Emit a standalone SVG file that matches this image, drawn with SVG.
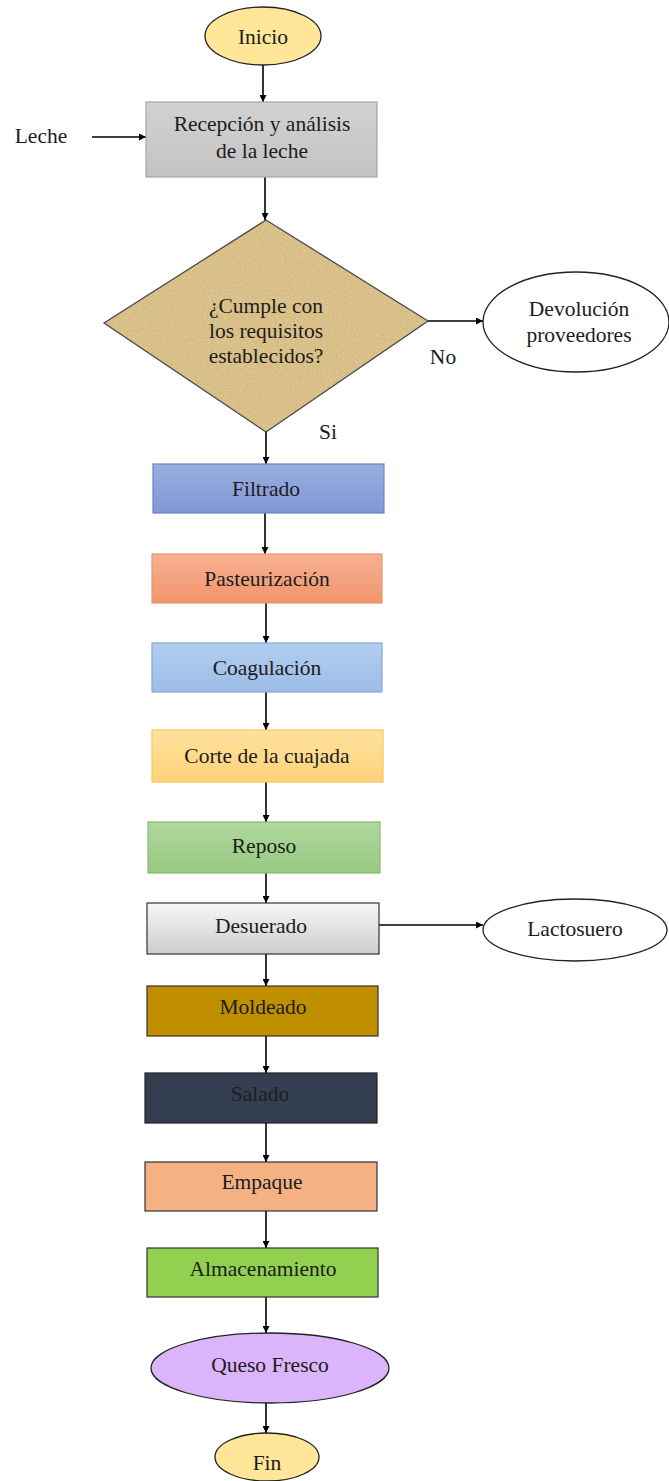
<svg xmlns="http://www.w3.org/2000/svg" width="669" height="1481" viewBox="0 0 669 1481">
  <style>
    text { font-family: "Liberation Serif", "Times New Roman", serif; font-size: 21.5px; fill: #1c1c1c; text-anchor: middle; dominant-baseline: central; }
    .conn { stroke: #000; stroke-width: 1.6; fill: none; marker-end: url(#arrow); }
    .box { stroke-width: 1.2; }
  </style>
  <defs>
    <marker id="arrow" viewBox="0 0 10 10" refX="10" refY="5" markerWidth="7" markerHeight="7" orient="auto" markerUnits="userSpaceOnUse">
      <path d="M0,0 L10,5 L0,10 z" fill="#000"/>
    </marker>
    <linearGradient id="gGray" x1="0" y1="0" x2="0" y2="1">
      <stop offset="0" stop-color="#d2d2d2"/>
      <stop offset="1" stop-color="#c3c3c3"/>
    </linearGradient>
    <linearGradient id="gBlue" x1="0" y1="0" x2="0" y2="1">
      <stop offset="0" stop-color="#9aaee0"/>
      <stop offset="1" stop-color="#8197d4"/>
    </linearGradient>
    <linearGradient id="gSalmon" x1="0" y1="0" x2="0" y2="1">
      <stop offset="0" stop-color="#f7b192"/>
      <stop offset="1" stop-color="#f1946c"/>
    </linearGradient>
    <linearGradient id="gLightBlue" x1="0" y1="0" x2="0" y2="1">
      <stop offset="0" stop-color="#b2cdef"/>
      <stop offset="1" stop-color="#9dbde6"/>
    </linearGradient>
    <linearGradient id="gYellow" x1="0" y1="0" x2="0" y2="1">
      <stop offset="0" stop-color="#ffe29e"/>
      <stop offset="1" stop-color="#ffd27a"/>
    </linearGradient>
    <linearGradient id="gGreen" x1="0" y1="0" x2="0" y2="1">
      <stop offset="0" stop-color="#b0d89d"/>
      <stop offset="1" stop-color="#96c982"/>
    </linearGradient>
    <linearGradient id="gSilver" x1="0" y1="0" x2="0" y2="1">
      <stop offset="0" stop-color="#f7f7f7"/>
      <stop offset="1" stop-color="#cdcdcd"/>
    </linearGradient>
    <!-- parchment grain for the decision diamond -->
    <filter id="parchment" x="0" y="0" width="100%" height="100%">
      <feTurbulence type="fractalNoise" baseFrequency="0.6" numOctaves="3" seed="4" result="noise"/>
      <feColorMatrix in="noise" type="matrix" values="0 0 0 0 0.93  0 0 0 0 0.84  0 0 0 0 0.62  0 0 0 1.2 -0.45" result="tint"/>
      <feComposite in="tint" in2="SourceGraphic" operator="in"/>
    </filter>
  </defs>

  <!-- connectors -->
  <g id="connectors">
    <line class="conn" x1="263" y1="65" x2="263" y2="102"/>
    <line class="conn" x1="92" y1="137" x2="146" y2="137"/>
    <line class="conn" x1="265" y1="177" x2="265" y2="220"/>
    <line class="conn" x1="428" y1="321" x2="483" y2="321"/>
    <line class="conn" x1="266" y1="432" x2="266" y2="464"/>
    <line class="conn" x1="265" y1="513" x2="265" y2="554"/>
    <line class="conn" x1="266" y1="603" x2="266" y2="643"/>
    <line class="conn" x1="266" y1="692" x2="266" y2="730"/>
    <line class="conn" x1="266" y1="782" x2="266" y2="822"/>
    <line class="conn" x1="266" y1="873" x2="266" y2="903"/>
    <line class="conn" x1="379" y1="925" x2="483" y2="925"/>
    <line class="conn" x1="266" y1="954" x2="266" y2="986"/>
    <line class="conn" x1="266" y1="1036" x2="266" y2="1073"/>
    <line class="conn" x1="266" y1="1123" x2="266" y2="1162"/>
    <line class="conn" x1="266" y1="1211" x2="266" y2="1248"/>
    <line class="conn" x1="266" y1="1297" x2="266" y2="1333"/>
    <line class="conn" x1="266" y1="1403" x2="266" y2="1433"/>
  </g>

  <g id="inicio">
    <ellipse cx="263" cy="36" rx="58" ry="29" fill="#ffe699" stroke="#222" stroke-width="1.3"/>
    <text x="263" y="37">Inicio</text>
  </g>

  <g id="leche">
    <text x="41" y="136">Leche</text>
  </g>

  <g id="recepcion">
    <rect class="box" x="146" y="102" width="231" height="75" fill="url(#gGray)" stroke="#a6a6a6"/>
    <text x="262" y="124">Recepción y análisis</text>
    <text x="262" y="151">de la leche</text>
  </g>

  <g id="decision">
    <polygon points="266,220 428,321 266,432 104,323" fill="#d6bb82"/>
    <polygon points="266,220 428,321 266,432 104,323" fill="#d6bb82" filter="url(#parchment)" opacity="0.6"/>
    <polygon points="266,220 428,321 266,432 104,323" fill="none" stroke="#4a4a4a" stroke-width="1.3"/>
    <text x="266" y="306">¿Cumple con</text>
    <text x="266" y="331">los requisitos</text>
    <text x="266" y="356">establecidos?</text>
  </g>

  <g id="label-no">
    <text x="443" y="357">No</text>
  </g>
  <g id="label-si">
    <text x="328" y="432">Si</text>
  </g>

  <g id="devolucion">
    <ellipse cx="576" cy="322" rx="93" ry="50" fill="#fff" stroke="#222" stroke-width="1.3"/>
    <text x="579" y="309">Devolución</text>
    <text x="579" y="335">proveedores</text>
  </g>

  <g id="filtrado">
    <rect class="box" x="153" y="464" width="231" height="49" fill="url(#gBlue)" stroke="#6d84c2"/>
    <text x="266" y="489">Filtrado</text>
  </g>

  <g id="pasteurizacion">
    <rect class="box" x="152" y="554" width="230" height="49" fill="url(#gSalmon)" stroke="#e9946d"/>
    <text x="267" y="579">Pasteurización</text>
  </g>

  <g id="coagulacion">
    <rect class="box" x="152" y="643" width="230" height="49" fill="url(#gLightBlue)" stroke="#84a8d8"/>
    <text x="267" y="668">Coagulación</text>
  </g>

  <g id="corte">
    <rect class="box" x="152" y="730" width="231" height="52" fill="url(#gYellow)" stroke="#f7c65a"/>
    <text x="267" y="756">Corte de la cuajada</text>
  </g>

  <g id="reposo">
    <rect class="box" x="148" y="822" width="232" height="51" fill="url(#gGreen)" stroke="#86bd70"/>
    <text x="264" y="846">Reposo</text>
  </g>

  <g id="desuerado">
    <rect class="box" x="147" y="903" width="232" height="51" fill="url(#gSilver)" stroke="#333"/>
    <text x="261" y="926">Desuerado</text>
  </g>

  <g id="lactosuero">
    <ellipse cx="575" cy="930" rx="92" ry="31" fill="#fff" stroke="#222" stroke-width="1.3"/>
    <text x="575" y="929">Lactosuero</text>
  </g>

  <g id="moldeado">
    <rect class="box" x="147" y="986" width="231" height="50" fill="#bf8f00" stroke="#333"/>
    <text x="263" y="1007">Moldeado</text>
  </g>

  <g id="salado">
    <rect class="box" x="145" y="1073" width="232" height="50" fill="#333f50" stroke="#222"/>
    <text x="260" y="1094" style="fill:#1e1e1e">Salado</text>
  </g>

  <g id="empaque">
    <rect class="box" x="145" y="1162" width="232" height="49" fill="#f4b183" stroke="#333"/>
    <text x="262" y="1182">Empaque</text>
  </g>

  <g id="almacenamiento">
    <rect class="box" x="147" y="1248" width="231" height="49" fill="#92d050" stroke="#333"/>
    <text x="263" y="1269">Almacenamiento</text>
  </g>

  <g id="queso">
    <ellipse cx="270" cy="1368" rx="119" ry="35" fill="#dcb4fb" stroke="#222" stroke-width="1.3"/>
    <text x="270" y="1365">Queso Fresco</text>
  </g>

  <g id="fin">
    <ellipse cx="267" cy="1457" rx="52" ry="24" fill="#ffe699" stroke="#222" stroke-width="1.3"/>
    <text x="267" y="1463">Fin</text>
  </g>
</svg>
